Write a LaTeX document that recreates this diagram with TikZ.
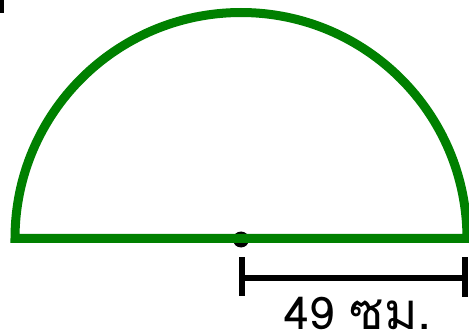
\documentclass[tikz,border=0pt]{standalone}
\usepackage{fontspec}
\newfontfamily\thaifont[Script=Thai]{Loma}
\definecolor{arcgreen}{RGB}{0,128,0}
\begin{document}
\begin{tikzpicture}[x=1pt,y=-1pt,
  shapeline/.style={draw=arcgreen,line width=9pt},
  dimline/.style={draw=black,line width=6pt},
  lbl/.style={font=\thaifont\fontsize{45}{50}\selectfont,inner sep=0pt,anchor=base}]
\useasboundingbox (0,0) rectangle (469,334);
\fill[black] (0,0) rectangle (4,13);
\coordinate (c) at (241,238.5);
\coordinate (l) at (15,238.5);
\coordinate (r) at (467,238.5);
\fill[black] (241,239.5) circle (8);
\draw[shapeline] (l) arc[start angle=180,end angle=360,radius=226] -- cycle;
\coordinate (d1) at (241.5,277.5);
\coordinate (d2) at (464.5,277.5);
\draw[dimline] (d1) -- (d2);
\draw[dimline] ([yshift=-18pt]d1) -- ([yshift=21pt]d1);
\draw[dimline] ([yshift=-19pt]d2) -- ([yshift=21pt]d2);
\node[lbl] (t) at (358,329.5) {49 {\fontsize{51}{55}\selectfont ซม.}};
\end{tikzpicture}
\end{document}
